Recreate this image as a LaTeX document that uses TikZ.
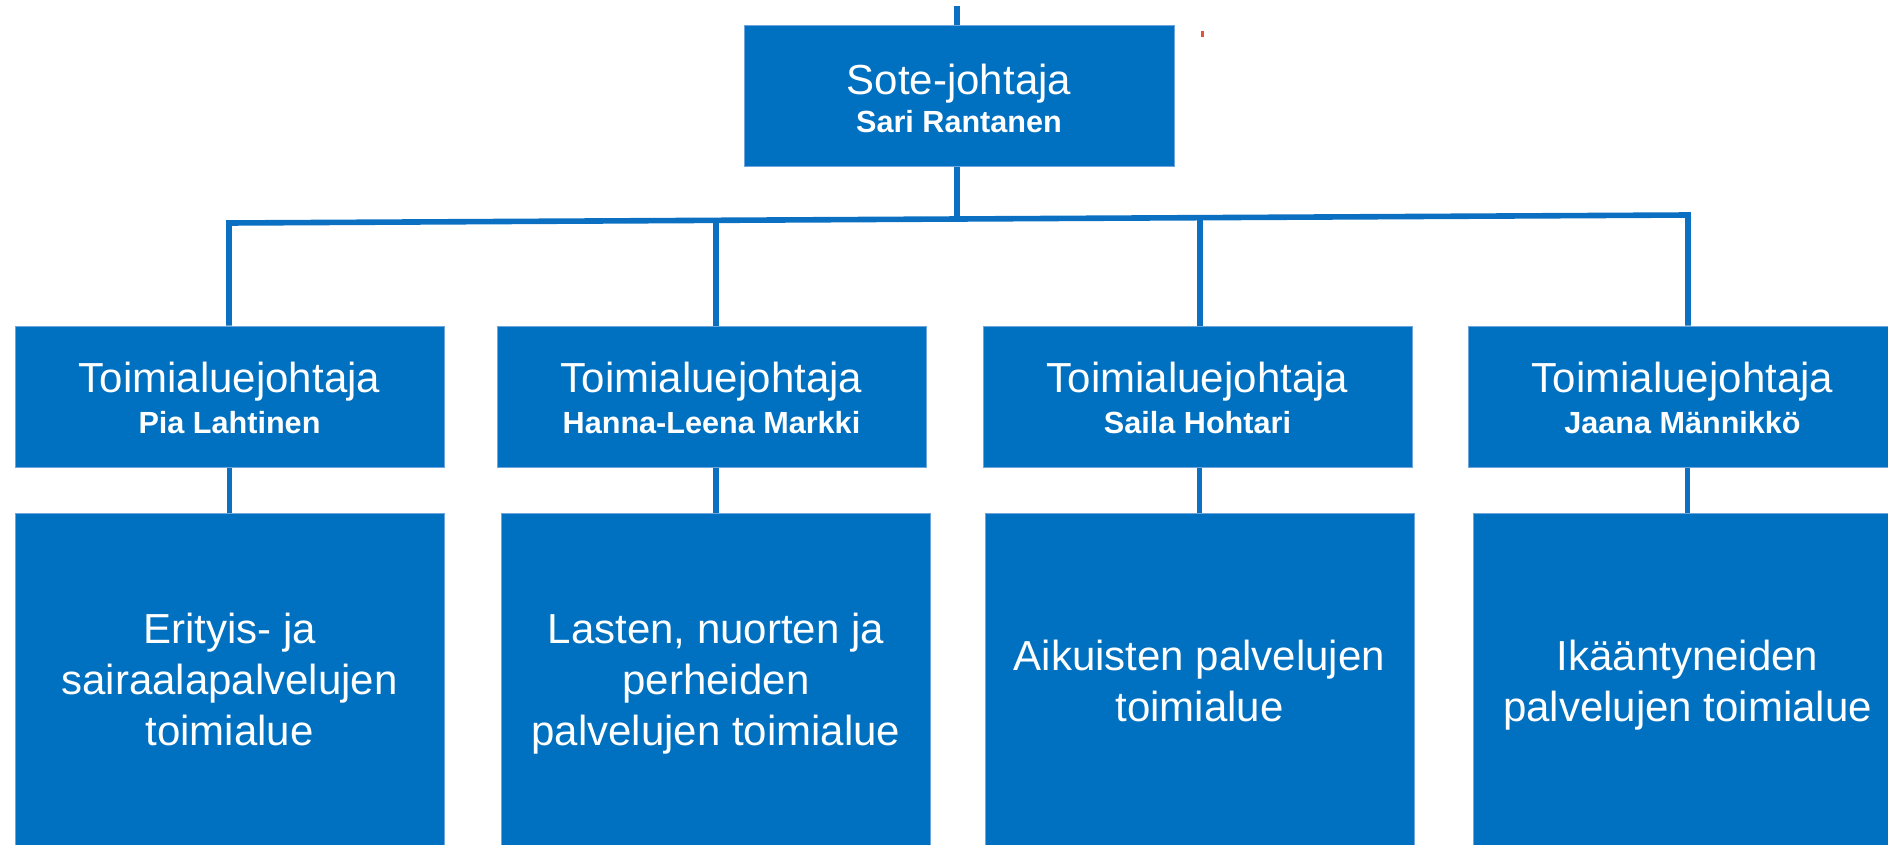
\documentclass[tikz,border=0pt]{standalone}
\usepackage{fontspec}
\setmainfont{Liberation Sans}
\usetikzlibrary{calc}
\definecolor{boxblue}{RGB}{0,112,192}
\definecolor{lineblue}{RGB}{12,112,194}
\definecolor{edgeblue}{RGB}{110,165,220}
\definecolor{tickred}{RGB}{230,80,60}
\newcommand{\headtext}[3][0pt]{\begin{tabular}[b]{@{}c@{}}#2\\[#1]\fontsize{15.3}{15.3}\selectfont\bfseries #3\end{tabular}}
\newcommand{\areatext}[1]{\begin{tabular}[b]{@{}c@{}}#1\end{tabular}}
\begin{document}
\begin{tikzpicture}[x=0.5pt,y=-0.5pt,
  box/.style={fill=boxblue, draw=edgeblue, line width=0.5pt, inner sep=0pt, text=white},
  headbox/.style={box, minimum width=214.5pt, minimum height=70.5pt,
    text height=36.5pt, text depth=0pt, font=\fontsize{21}{20.5}\selectfont},
  areabox/.style={box, minimum width=214.5pt, minimum height=168pt,
    text depth=0pt, font=\fontsize{21}{25.5}\selectfont},
  conn/.style={draw=lineblue, line width=2.8pt, line join=miter}]
\useasboundingbox (0,0) rectangle (1888,845);
\clip (0,0) rectangle (1888,845);

% top box
\node[headbox, minimum width=215pt] (top) at (959,96.5) {\headtext[-1.2pt]{Sote-johtaja}{Sari Rantanen}};

% header boxes
\node[headbox] (h1) at (229.5,396.5) {\headtext{Toimialuejohtaja}{Pia Lahtinen}};
\node[headbox] (h2) at (711.5,396.5) {\headtext{Toimialuejohtaja}{Hanna-Leena Markki}};
\node[headbox] (h3) at (1197.5,396.5) {\headtext{Toimialuejohtaja}{Saila Hohtari}};
\node[headbox] (h4) at (1682.5,396.5) {\headtext{Toimialuejohtaja}{Jaana Männikkö}};

% area boxes
\node[areabox, text height=64pt] (a1) at (229.5,681) {\areatext{Erityis- ja\\sairaalapalvelujen\\toimialue}};
\node[areabox, text height=64pt] (a2) at (716,681) {\areatext{Lasten, nuorten ja\\perheiden\\palvelujen toimialue}};
\node[areabox, text height=40pt] (a3) at (1199.5,681) {\areatext{Aikuisten palvelujen\\toimialue}};
\node[areabox, text height=40pt] (a4) at (1687.5,681) {\areatext{Ikääntyneiden\\palvelujen toimialue}};

% connector points
\coordinate (tp) at (957,6);
\coordinate (jt) at (957,219);
\coordinate (j1) at (229,223);
\coordinate (j2) at (716,220.3);
\coordinate (j3) at (1200,217.7);
\coordinate (j4) at (1688,215);

\draw[conn] (tp) -- (tp |- top.north);
\draw[conn] (tp |- top.south) -- (jt);
\draw[conn] (j1 |- h1.north) -- (j1) -- (j4) -- (j4 |- h4.north);
\draw[conn] (j2) -- (j2 |- h2.north);
\draw[conn] (j3) -- (j3 |- h3.north);

\draw[conn] (a1.north |- h1.south) -- (a1.north);
\draw[conn] (a2.north |- h2.south) -- (a2.north);
\draw[conn] (a3.north |- h3.south) -- (a3.north);
\draw[conn] (a4.north |- h4.south) -- (a4.north);

% small red mark
\fill[tickred] (1201,31) rectangle (1203.5,37);
\end{tikzpicture}
\end{document}
